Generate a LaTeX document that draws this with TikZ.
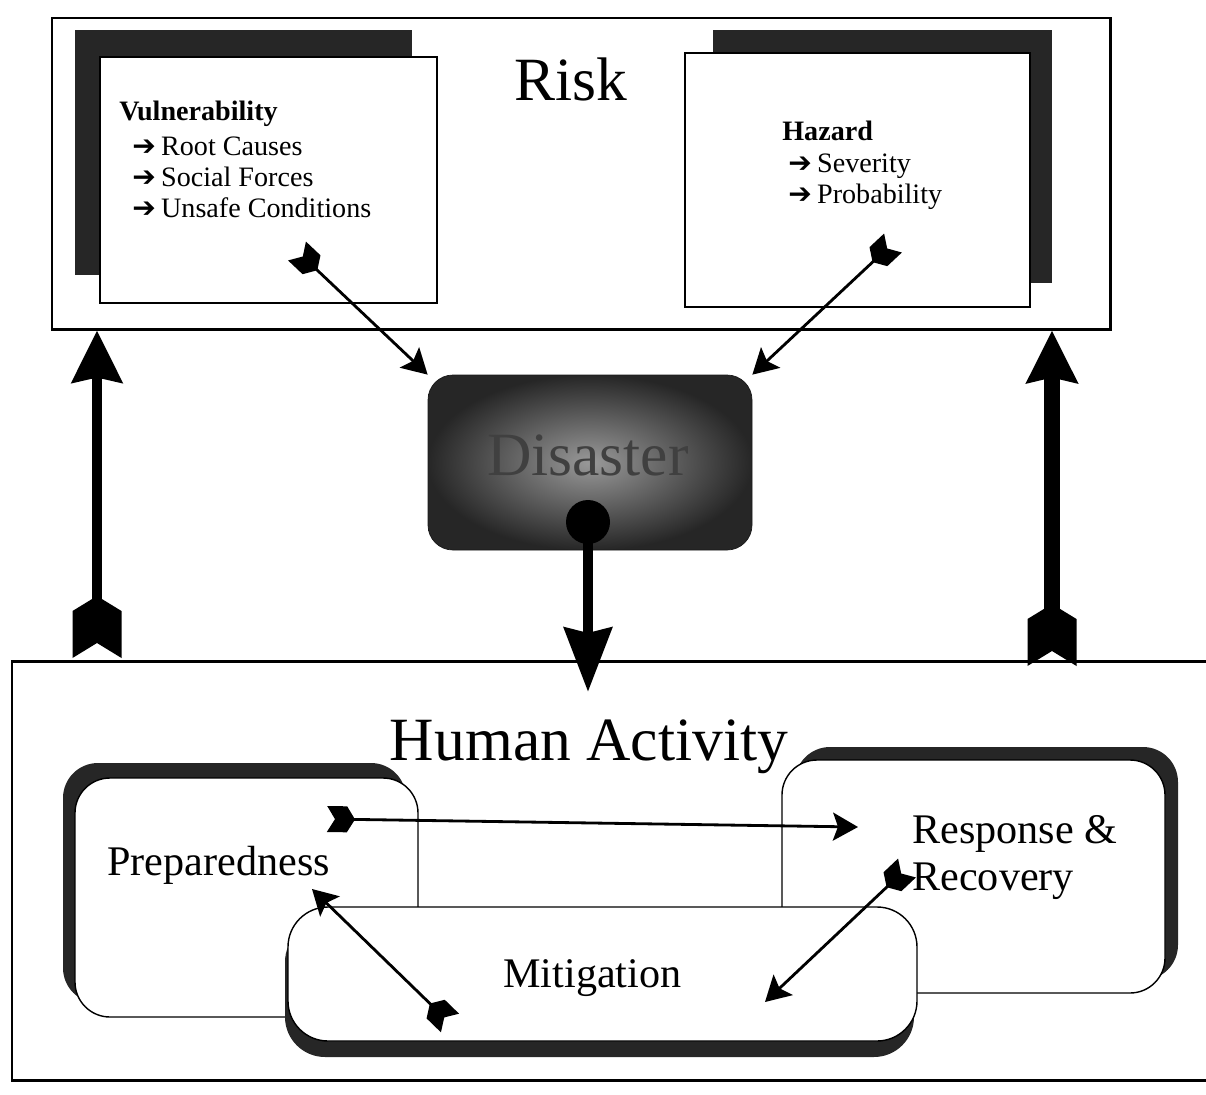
\documentclass[tikz,border=0pt]{standalone}
\usepackage{fontspec}
\setmainfont{Liberation Serif}
\newfontfamily\symfont{DejaVu Sans}
\usetikzlibrary{arrows.meta,fit}

% feathered tail for the arrows
\pgfdeclarearrow{
  name = Fletch,
  parameters = {\the\pgfarrowlength,\the\pgfarrowwidth,\the\pgfarrowinset},
  setup code = {
    \pgfarrowssettipend{\pgfarrowlength}
    \pgfarrowssetbackend{0pt}
    \pgfarrowssetlineend{.5\pgfarrowlength}
    \pgfarrowssetvisualbackend{0pt}
    \pgfarrowssavethe\pgfarrowlength
    \pgfarrowssavethe\pgfarrowwidth
    \pgfarrowssavethe\pgfarrowinset
  },
  drawing code = {
    \pgfpathmoveto{\pgfqpoint{0pt}{0pt}}
    \pgfpathlineto{\pgfqpoint{\pgfarrowinset}{.5\pgfarrowwidth}}
    \pgfpathlineto{\pgfqpoint{\pgfarrowlength}{.5\pgfarrowwidth}}
    \pgfpathlineto{\pgfpoint{\pgfarrowlength-\pgfarrowinset}{0pt}}
    \pgfpathlineto{\pgfqpoint{\pgfarrowlength}{-.5\pgfarrowwidth}}
    \pgfpathlineto{\pgfqpoint{\pgfarrowinset}{-.5\pgfarrowwidth}}
    \pgfpathclose
    \pgfusepathqfill
  },
  defaults = {length=4mm, width=3mm, inset=1mm}
}

\tikzset{
  frame/.style={draw, line width=1.7pt, inner sep=0pt},
  card/.style={draw, fill=white, line width=0.6pt, inner sep=0pt},
  cardshadow/.style={fill=black!85},
  phase/.style={draw, fill=white, line width=0.8pt, rounded corners=7mm, inner sep=0pt},
  phaseshadow/.style={fill=black!85, rounded corners=7mm},
  cardtext/.style={anchor=base west, inner sep=0pt, font=\fontsize{16}{19}\selectfont},
  title/.style={anchor=base, inner sep=0pt, font=\fontsize{35}{40}\selectfont},
  phasetext/.style={anchor=base west, inner sep=0pt, font=\fontsize{24}{28}\selectfont},
  link/.style={line width=1.6pt,
    {Fletch[length=5.6mm,width=5.2mm,inset=1.6mm]}-{Stealth[length=5mm,width=5.6mm,inset=1mm]}},
  bigarrow/.style={line width=#1,
    {Fletch[length=12.4mm,width=9.8mm,inset=3mm]}-{Stealth[length=10.4mm,width=10mm,inset=1mm]}},
}

\begin{document}
\begin{tikzpicture}[x=0.2mm, y=-0.2mm]
\useasboundingbox (0,0) rectangle (1206,1095);

% the two frames
\node[frame, fit={(52,18) (1110,329)}] (risk) {};
\node[frame, fit={(12,661) (1220,1080)}] (human) {};

\node[title] (risklabel) at (571,100) {Risk};
\node[title] (humanlabel) at (589,760) {Human Activity};

% vulnerability and hazard
\fill[cardshadow] (75,30) rectangle (412,275);
\node[card, fit={(100,57) (437,303)}] (vuln) {};
\fill[cardshadow] (713,30) rectangle (1052,283);
\node[card, fit={(685,53) (1030,307)}] (hazard) {};

\node[cardtext] (vtitle) at (119,120) {\textbf{Vulnerability}};
\node[cardtext] (v1) at (132,155) {{\symfont ➔}\hspace{3pt}Root Causes};
\node[cardtext] (v2) at (132,186) {{\symfont ➔}\hspace{3pt}Social Forces};
\node[cardtext] (v3) at (132,217) {{\symfont ➔}\hspace{3pt}Unsafe Conditions};

\node[cardtext] (htitle) at (782,140) {\textbf{Hazard}};
\node[cardtext] (h1) at (788,172) {{\symfont ➔}\hspace{3pt}Severity};
\node[cardtext] (h2) at (788,203) {{\symfont ➔}\hspace{3pt}Probability};

% disaster
\node[fit={(428,375) (752,550)}, inner sep=0pt, rounded corners=5mm,
  inner color=black!40, outer color=black!85, draw=black!90] (disaster) {};
\node[title, text=black!75] (dlabel) at (588,475) {Disaster};
\node[circle, fill, minimum size=8.8mm, inner sep=0pt] (dot) at (588,522) {};

\coordinate (vtail) at (297,251);
\coordinate (htail) at (893,243);
\draw[link] (vtail) -- (disaster.north west);
\draw[link] (htail) -- (disaster.north east);

\coordinate (drop) at (588,692);
\draw[line width=6.2pt, -{Stealth[length=12.8mm,width=9.4mm,inset=1mm]}] (dot.center) -- (drop);

\coordinate (lfoot) at (97,658);
\coordinate (rfoot) at (1052,666);
\draw[bigarrow=5.7pt] (lfoot) -- (lfoot |- risk.south);
\draw[bigarrow=9.6pt] (rfoot) -- (rfoot |- risk.south);

% the three phases
\fill[phaseshadow] (63,763) rectangle (406,1003);
\node[phase, fit={(75,778) (418,1017)}] (prep) {};
\fill[phaseshadow] (795,747) rectangle (1178,980);
\node[phase, fit={(782,760) (1165,993)}] (resp) {};
\fill[phaseshadow, rounded corners=8mm] (285,922) rectangle (914,1057);
\node[phase, rounded corners=8mm, fit={(288,907) (917,1041)}] (mitig) {};

\node[phasetext] (plabel) at (107,875) {Preparedness};
\node[phasetext] (r1) at (912,843) {Response \&};
\node[phasetext] (r2) at (912,890) {Recovery};
\node[phasetext] (mlabel) at (503,987) {Mitigation};

\coordinate (ptail) at (327,819);
\coordinate (rhead) at (858,827);
\coordinate (rtail) at (907,868);
\coordinate (mhead) at (765,1002);
\coordinate (mtail) at (450,1023);
\coordinate (phead) at (312,889);
\draw[link] (ptail) -- (rhead);
\draw[link] (rtail) -- (mhead);
\draw[link] (mtail) -- (phead);
\end{tikzpicture}
\end{document}
